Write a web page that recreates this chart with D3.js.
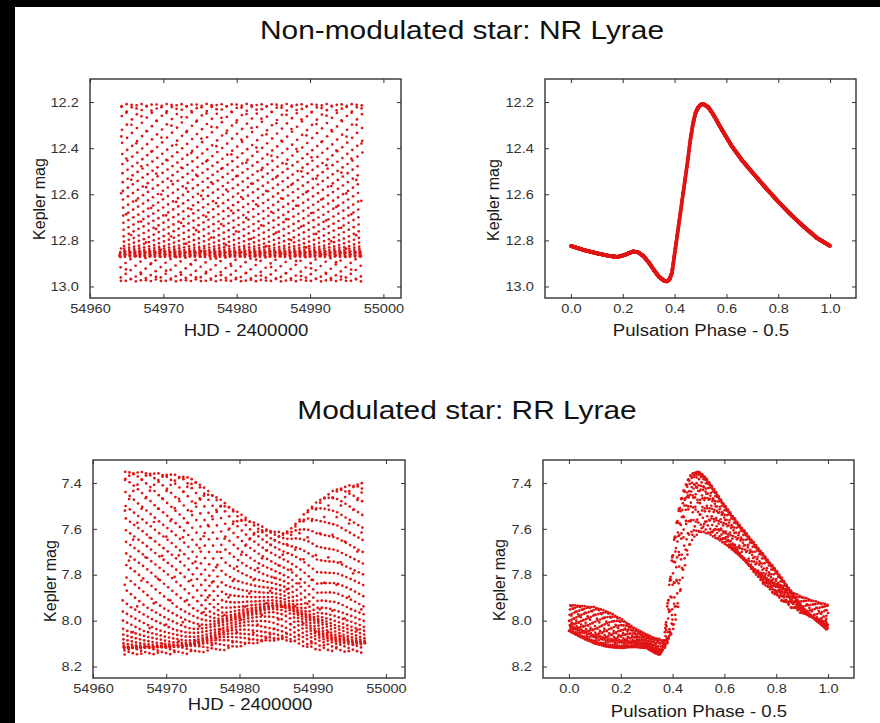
<!DOCTYPE html>
<html>
<head>
<meta charset="utf-8">
<script src="https://cdn.jsdelivr.net/npm/d3@7"></script>
<style>
  html, body { margin: 0; padding: 0; background: #000; }
  svg { display: block; }
  text { font-family: "Liberation Sans", Arial, sans-serif; }
</style>
</head>
<body>
<svg id="chart" width="880" height="723"></svg>
<script>
// ---- NR Lyrae: mean light curve (phase shifted so maximum sits at 0.5) ----
const nrPhase = [0, .05, .10, .15, .18, .21, .24, .26, .28, .30,
                 .32, .34, .36, .37, .38, .39, .40, .41, .42, .43,
                 .44, .45, .46, .47, .48, .49, .50, .51, .53, .55,
                 .58, .62, .66, .70, .75, .80, .85, .90, .95, 1.0];
const nrMag = [12.824, 12.842, 12.856, 12.868, 12.872, 12.862, 12.848, 12.852, 12.868, 12.895,
               12.928, 12.958, 12.975, 12.978, 12.970, 12.940, 12.860, 12.780, 12.700, 12.620,
               12.540, 12.460, 12.370, 12.300, 12.250, 12.225, 12.212, 12.208, 12.222, 12.255,
               12.315, 12.390, 12.452, 12.505, 12.570, 12.632, 12.690, 12.742, 12.790, 12.824];
const nrPeriod = 0.6820264;   // days
const nrEpoch = 54964.30;     // HJD-2400000 of a light maximum

// ---- RR Lyrae: light-curve shapes across the Blazhko cycle ----
const rrPhase = [0, .05, .10, .15, .20, .25, .30, .33, .35, .36,
                 .37, .38, .39, .40, .41, .42, .43, .44, .45, .46,
                 .47, .48, .50, .52, .55, .60, .65, .70, .75, .80,
                 .85, .90, .95, 1.0];
// large-amplitude state
const rrMagHigh = [8.045, 8.075, 8.100, 8.115, 8.120, 8.115, 8.120, 8.140, 8.150, 8.130,
                   8.050, 7.930, 7.810, 7.700, 7.610, 7.540, 7.480, 7.440, 7.410, 7.385,
                   7.365, 7.355, 7.350, 7.365, 7.410, 7.495, 7.570, 7.640, 7.710, 7.780,
                   7.860, 7.940, 7.995, 8.045];
// intermediate state
const rrMagMid = [8.000, 8.010, 8.030, 8.045, 8.055, 8.070, 8.090, 8.110, 8.125, 8.130,
                  8.125, 8.100, 8.040, 7.950, 7.850, 7.750, 7.660, 7.590, 7.540, 7.510,
                  7.495, 7.485, 7.480, 7.490, 7.530, 7.610, 7.690, 7.770, 7.840, 7.895,
                  7.940, 7.970, 7.990, 8.000];
// small-amplitude state
const rrMagLow = [7.930, 7.935, 7.940, 7.960, 7.990, 8.030, 8.060, 8.075, 8.080, 8.085,
                  8.085, 8.080, 8.070, 8.050, 8.010, 7.950, 7.880, 7.810, 7.750, 7.700,
                  7.665, 7.640, 7.620, 7.615, 7.630, 7.665, 7.710, 7.760, 7.805, 7.840,
                  7.870, 7.895, 7.915, 7.930];
// brightest magnitude reached per cycle along the run (Blazhko envelope)
const rrEnvTimes = [54964.0, 54966.8, 54969.1, 54970.7, 54972.7, 54974.1, 54975.2, 54976.4, 54977.7, 54979.5,
                    54981.4, 54983.2, 54984.5, 54985.9, 54986.8, 54988.2, 54989.5, 54990.9, 54993.2, 54995.0, 54997.2];
const rrEnvMax = [7.348, 7.350, 7.357, 7.360, 7.370, 7.390, 7.420, 7.450, 7.480, 7.520,
                  7.560, 7.590, 7.610, 7.615, 7.605, 7.555, 7.510, 7.475, 7.425, 7.410, 7.395];
const rrPeriod = 0.566788;    // days
const rrEpoch = 54964.40;

// ---- Kepler long-cadence run ----
const obsStart = 54964.05;
const obsEnd = 54997.15;
const cadence = 0.0204335;    // days

// ---- axis ticks ----
const hjdTicks = [54960, 54970, 54980, 54990, 55000];
const phaseTicks = [0.0, 0.2, 0.4, 0.6, 0.8, 1.0];
const nrMagTicks = [12.2, 12.4, 12.6, 12.8, 13.0];
const rrMagTicks = [7.4, 7.6, 7.8, 8.0, 8.2];

// ---- build the photometric series ----
const times = d3.range(obsStart, obsEnd, cadence);
const foldPhase = (t, epoch, period) => {
  let f = ((t - epoch) / period + 0.5) % 1;
  return f < 0 ? f + 1 : f;
};

const nrCurve = d3.scaleLinear().domain(nrPhase).range(nrMag);
const nrSeries = times.map(t => {
  const ph = foldPhase(t, nrEpoch, nrPeriod);
  return { t, ph, mag: nrCurve(ph) };
});

const rrHigh = d3.scaleLinear().domain(rrPhase).range(rrMagHigh);
const rrMid = d3.scaleLinear().domain(rrPhase).range(rrMagMid);
const rrLow = d3.scaleLinear().domain(rrPhase).range(rrMagLow);
const rrEnv = d3.scaleLinear().domain(rrEnvTimes).range(rrEnvMax).clamp(true);
const rrState = d3.scaleLinear().domain([d3.min(rrEnvMax), d3.max(rrEnvMax)]).range([0, 1]).clamp(true);
const rrSeries = times.map(t => {
  const ph = foldPhase(t, rrEpoch, rrPeriod);
  const w = rrState(rrEnv(t));
  const mag = d3.scaleLinear().domain([0, 0.5, 1]).range([rrHigh(ph), rrMid(ph), rrLow(ph)])(w);
  return { t, ph, mag };
});

// ---- drawing ----
const W = 880, H = 723;
const DOT = "#e01414";
const INK = "#333";
const svg = d3.select("#chart");

svg.append("rect").attr("x", 15).attr("y", 7)
  .attr("width", W - 15).attr("height", H - 7).attr("fill", "#fff");

const headings = [
  { text: "Non-modulated star: NR Lyrae", x: 462, y: 39 },
  { text: "Modulated star: RR Lyrae", x: 467, y: 419 }
];
headings.forEach(h => {
  svg.append("g").attr("transform", `translate(${h.x},${h.y})`)
    .append("text")
    .attr("transform", "scale(1.15,1)")
    .attr("text-anchor", "middle")
    .attr("font-size", 26)
    .attr("fill", "#111")
    .text(h.text);
});

function panel(p) {
  const g = svg.append("g");
  const x = d3.scaleLinear().domain(p.xDomain).range([p.left, p.right]);
  const y = d3.scaleLinear().domain(p.yDomain).range([p.top, p.bottom]);

  g.append("g").selectAll("circle")
    .data(p.data)
    .join("circle")
    .attr("cx", d => x(p.xVal(d)))
    .attr("cy", d => y(d.mag))
    .attr("r", p.r)
    .attr("fill", DOT);

  const styleAxis = sel => {
    sel.select(".domain").remove();
    sel.selectAll(".tick line").attr("stroke", INK).attr("stroke-width", 1);
    sel.selectAll(".tick text").attr("fill", INK).attr("font-size", 13)
      .attr("font-family", '"Liberation Sans", Arial, sans-serif')
      .attr("transform", "scale(1.12,1)");
  };

  g.append("g").attr("transform", `translate(0,${p.bottom})`)
    .call(d3.axisBottom(x).tickValues(p.xTicks).tickFormat(p.xFmt).tickSize(-4).tickPadding(6))
    .call(styleAxis);
  g.append("g").attr("transform", `translate(0,${p.top})`)
    .call(d3.axisTop(x).tickValues(p.xTicks).tickFormat("").tickSize(-4))
    .call(styleAxis);
  g.append("g").attr("transform", `translate(${p.left},0)`)
    .call(d3.axisLeft(y).tickValues(p.yTicks).tickFormat(d3.format(".1f")).tickSize(-4).tickPadding(10))
    .call(styleAxis);
  g.append("g").attr("transform", `translate(${p.right},0)`)
    .call(d3.axisRight(y).tickValues(p.yTicks).tickFormat("").tickSize(-4))
    .call(styleAxis);

  g.append("rect")
    .attr("x", p.left).attr("y", p.top)
    .attr("width", p.right - p.left).attr("height", p.bottom - p.top)
    .attr("fill", "none").attr("stroke", INK).attr("stroke-width", 1.4);

  g.append("g").attr("transform", `translate(${p.xTitle[0]},${p.xTitle[1]})`)
    .append("text")
    .attr("transform", "scale(1.16,1)")
    .attr("text-anchor", "middle").attr("dy", "0.35em")
    .attr("font-size", 16).attr("fill", "#1a1a1a")
    .text(p.xLabel);

  g.append("text")
    .attr("transform", `translate(${p.yTitle[0]},${p.yTitle[1]}) rotate(-90)`)
    .attr("text-anchor", "middle").attr("dy", "0.35em")
    .attr("font-size", 16).attr("fill", "#1a1a1a")
    .text("Kepler mag");
}

const hjdFmt = d3.format("d");
const phFmt = d3.format(".1f");

panel({
  left: 90, right: 401, top: 79, bottom: 298,
  xDomain: [54960, 55002.4], yDomain: [12.1, 13.05],
  xTicks: hjdTicks, yTicks: nrMagTicks, xFmt: hjdFmt,
  data: nrSeries, xVal: d => d.t, r: 1.35,
  xLabel: "HJD - 2400000", xTitle: [246, 330], yTitle: [39, 199]
});
panel({
  left: 545, right: 856, top: 79, bottom: 298,
  xDomain: [-0.1, 1.1], yDomain: [12.1, 13.05],
  xTicks: phaseTicks, yTicks: nrMagTicks, xFmt: phFmt,
  data: nrSeries, xVal: d => d.ph, r: 1.9,
  xLabel: "Pulsation Phase - 0.5", xTitle: [701, 330], yTitle: [493, 200]
});
panel({
  left: 93, right: 405, top: 460, bottom: 678,
  xDomain: [54960, 55002.6], yDomain: [7.3, 8.25],
  xTicks: hjdTicks, yTicks: rrMagTicks, xFmt: hjdFmt,
  data: rrSeries, xVal: d => d.t, r: 1.35,
  xLabel: "HJD - 2400000", xTitle: [250, 704], yTitle: [50, 581]
});
panel({
  left: 543, right: 854, top: 460, bottom: 678,
  xDomain: [-0.1, 1.1], yDomain: [7.3, 8.25],
  xTicks: phaseTicks, yTicks: rrMagTicks, xFmt: phFmt,
  data: rrSeries, xVal: d => d.ph, r: 1.35,
  xLabel: "Pulsation Phase - 0.5", xTitle: [699, 711], yTitle: [499, 580]
});
</script>
</body>
</html>
